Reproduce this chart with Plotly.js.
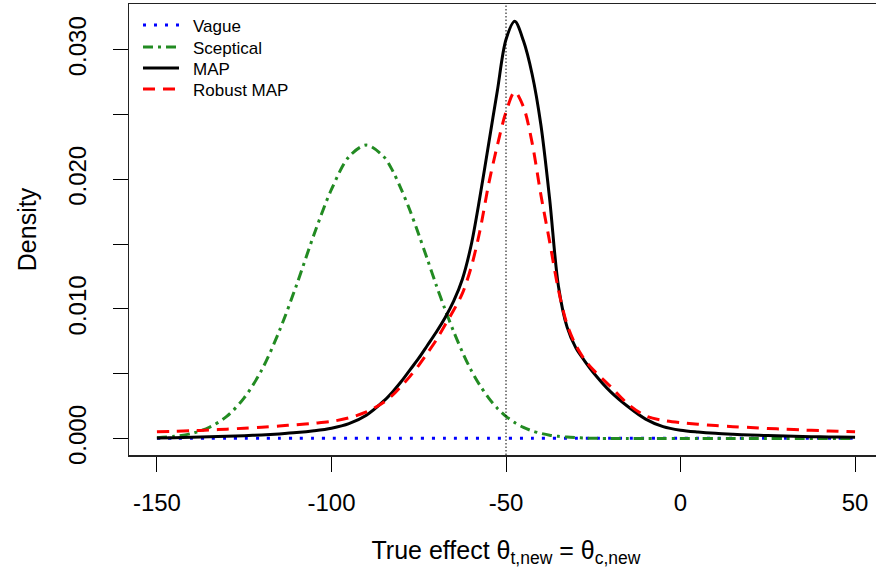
<!DOCTYPE html>
<html>
<head>
<meta charset="utf-8">
<script src="https://cdn.plot.ly/plotly-3.0.1.min.js"></script>
<style>
html,body{margin:0;padding:0;overflow:hidden;background:#fff;}
#chart{width:884px;height:576px;}
</style>
</head>
<body>
<div id="chart"></div>
<script>
// True effect grid (x values)
const theta = [-150,-145,-140,-135,-130,-125,-120,-115,-110,-105,-100,-95,-90,-85,
  -82.5,-80,-77.5,-75,-72.5,-70,-67.5,-65,-62.5,-60,-57.5,-55,-52.5,-50,-47.5,-45,
  -42.5,-40,-37.5,-35,-32.5,-30,-27.5,-25,
  -20,-15,-10,-5,0,5,10,15,20,25,30,35,40,45,50];

// Densities
const vague = [0.00003,0.00003,0.00003,0.00003,0.00003,0.00003,0.00003,0.00003,0.00003,0.00003,0.00003,0.00003,0.00003,0.00003,
  0.00003,0.00003,0.00003,0.00003,0.00003,0.00003,0.00003,0.00003,0.00003,0.00003,0.00003,0.00003,0.00003,0.00003,0.00003,0.00003,
  0.00003,0.00003,0.00003,0.00003,0.00003,0.00003,0.00003,0.00003,
  0.00003,0.00003,0.00003,0.00003,0.00003,0.00003,0.00003,0.00003,0.00003,0.00003,0.00003,0.00003,0.00003,0.00003,0.00003];

const sceptical = [0.00007,0.00017,0.00040,0.00086,0.00171,0.00314,0.00528,0.00826,0.01185,0.01575,0.01923,0.02175,0.02265,0.02175,
  0.02068,0.01923,0.01760,0.01575,0.01382,0.01185,0.01000,0.00826,0.00668,0.00528,0.00412,0.00314,0.00234,0.00171,0.00123,0.00086,
  0.00059,0.00040,0.00026,0.00017,0.00011,0.00007,0.00004,0.00002,
  0.00001,0,0,0,0,0,0,0,0,0,0,0,0,0,0];

const mapPrior = [0.00005,0.00007,0.00010,0.00013,0.00017,0.00022,0.00028,0.00036,0.00046,0.00060,0.00080,0.00115,0.00180,0.00290,
  0.00360,0.00440,0.00530,0.00620,0.00720,0.00820,0.00930,0.01060,0.01230,0.01490,0.01860,0.02270,0.02680,0.03080,0.03220,0.03070,
  0.02810,0.02420,0.01850,0.01180,0.00860,0.00700,0.00600,0.00510,
  0.00360,0.00245,0.00150,0.00092,0.00064,0.00050,0.00040,0.00033,0.00027,0.00023,0.00019,0.00016,0.00013,0.00011,0.00010];

const robustMap = [0.00052,0.00056,0.00060,0.00066,0.00072,0.00080,0.00088,0.00097,0.00107,0.00118,0.00132,0.00160,0.00205,0.00280,
  0.00335,0.00405,0.00480,0.00565,0.00660,0.00760,0.00875,0.00990,0.01120,0.01320,0.01600,0.01960,0.02260,0.02520,0.02675,0.02560,
  0.02280,0.01880,0.01520,0.01150,0.00880,0.00720,0.00610,0.00530,
  0.00400,0.00265,0.00175,0.00140,0.00122,0.00110,0.00100,0.00092,0.00085,0.00078,0.00072,0.00066,0.00061,0.00056,0.00052];

const seriesNames = ['Vague','Sceptical','MAP','Robust MAP'];
const xTicks = [-150,-100,-50,0,50];
const xTickText = ['-150','-100','-50','0','50'];
const yTicks = [0,0.005,0.010,0.015,0.020,0.025,0.030];
const yTickText = ['0.000','','0.010','','0.020','','0.030'];
const refLine = -50;

const FONT = '"Liberation Sans", Arial, Helvetica, sans-serif';

const lineStyles = [
  {color: '#0000FF', width: 3, dash: '3px,8px'},
  {color: '#228B22', width: 3, dash: '10px,5px,3px,5px'},
  {color: '#000000', width: 3, dash: 'solid'},
  {color: '#FF0000', width: 3, dash: '12px,8px'}
];
const seriesData = [vague, sceptical, mapPrior, robustMap];

const traces = seriesData.map((ys, i) => ({
  x: theta, y: ys, name: seriesNames[i], mode: 'lines', showlegend: false,
  line: Object.assign({shape: 'spline', smoothing: 0.9}, lineStyles[i])
}));

// plot area in pixels (for placing the in-plot legend)
const M = {l: 129, r: 1, t: 4, b: 121};
const W = 884, H = 576;
const pw = W - M.l - M.r, ph = H - M.t - M.b;
const px = p => (p - M.l) / pw;
const py = p => (H - M.b - p) / ph;

const legendRowsY = [25, 47, 68, 89];
const shapes = [
  {type: 'line', xref: 'x', yref: 'paper', x0: refLine, x1: refLine, y0: 0, y1: 1,
   line: {color: '#000000', width: 1, dash: '1.5px,2px'}}
];
const annotations = [];
seriesNames.forEach((nm, i) => {
  shapes.push({type: 'line', xref: 'paper', yref: 'paper',
    x0: px(143), x1: px(179), y0: py(legendRowsY[i]), y1: py(legendRowsY[i]),
    line: lineStyles[i]});
  annotations.push({xref: 'paper', yref: 'paper', x: px(191), y: py(legendRowsY[i] + 1.5),
    xanchor: 'left', yanchor: 'middle', showarrow: false, text: nm,
    font: {family: FONT, size: 17, color: '#000000'}});
});

const layout = {
  width: W, height: H,
  margin: M,
  paper_bgcolor: '#ffffff', plot_bgcolor: '#ffffff',
  font: {family: FONT, color: '#000000', size: 24},
  showlegend: false,
  xaxis: {
    range: [-158, 58], tickvals: xTicks, ticktext: xTickText,
    ticks: 'outside', ticklen: 15, tickwidth: 1, tickcolor: '#000000',
    showline: true, mirror: true, linecolor: '#222222', linewidth: 1.5,
    showgrid: false, zeroline: false,
    tickfont: {family: FONT, size: 24, color: '#000000'},
    ticklabelstandoff: 11,
    title: {text: 'True effect θ<sub>t,new</sub> = θ<sub>c,new</sub>', font: {family: FONT, size: 25, color: '#000000'}, standoff: 26}
  },
  yaxis: {
    range: [-0.00127, 0.03354], tickvals: yTicks, ticktext: yTickText,
    ticks: 'outside', ticklen: 15, tickwidth: 1, tickcolor: '#000000',
    showline: true, mirror: true, linecolor: '#222222', linewidth: 1.5,
    showgrid: false, zeroline: false, tickangle: -90,
    tickfont: {family: FONT, size: 24, color: '#000000'},
    ticklabelstandoff: 17,
    title: {text: 'Density', font: {family: FONT, size: 25, color: '#000000'}, standoff: 20}
  },
  shapes: shapes,
  annotations: annotations
};

Plotly.newPlot('chart', traces, layout, {displayModeBar: false, staticPlot: true});
</script>
</body>
</html>
